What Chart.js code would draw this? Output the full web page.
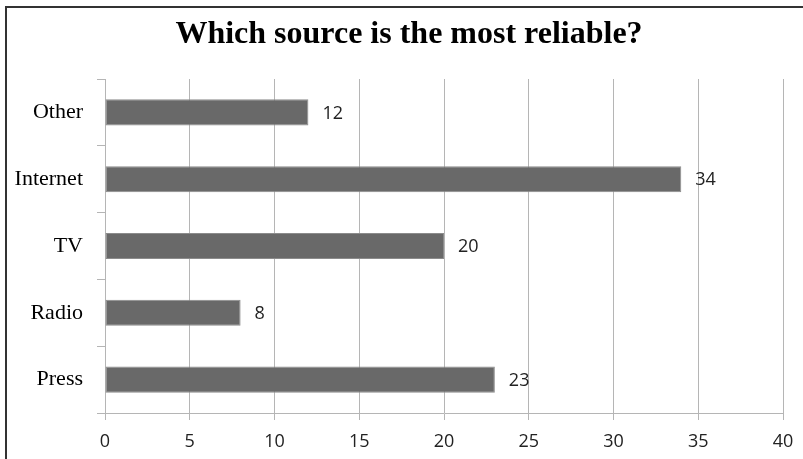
<!DOCTYPE html>
<html>
<head>
<meta charset="utf-8">
<script src="https://cdn.jsdelivr.net/npm/chart.js@4"></script>
<style>
  html, body { margin: 0; padding: 0; background: #fff; overflow: hidden; }
  #wrap { position: relative; width: 803px; height: 459px; }
  #frame {
    position: absolute; left: 5px; top: 6px; width: 900px; height: 600px;
    border-left: 2px solid #333; border-top: 2px solid #333;
  }
  canvas { position: absolute; left: 0; top: 0; }
</style>
</head>
<body>
<div id="wrap">
  <div id="frame"></div>
  <canvas id="chart" width="803" height="459"></canvas>
</div>
<script>
const titleText = 'Which source is the most reliable?';
const sources = ['Other', 'Internet', 'TV', 'Radio', 'Press'];
const votes = [12, 34, 20, 8, 23];
const axisMax = 40;
const axisStep = 5;

const gridGray = '#b5b5b5';

// title drawn by hand so it can sit off-centre like the original layout
const titlePlugin = {
  id: 'titleText',
  afterDraw(chart) {
    const ctx = chart.ctx;
    ctx.save();
    ctx.font = 'bold 32px "Liberation Serif", "Times New Roman", serif';
    ctx.fillStyle = '#000';
    ctx.textAlign = 'center';
    ctx.textBaseline = 'alphabetic';
    ctx.fillText(titleText, 409, 43);
    ctx.restore();
  }
};

// value written just past the end of each bar
const valueLabels = {
  id: 'valueLabels',
  afterDatasetsDraw(chart) {
    const ctx = chart.ctx;
    const meta = chart.getDatasetMeta(0);
    ctx.save();
    ctx.font = '18px "Open Sans", sans-serif';
    ctx.fillStyle = '#222';
    ctx.textAlign = 'left';
    ctx.textBaseline = 'middle';
    meta.data.forEach((bar, i) => {
      ctx.fillText(String(votes[i]), bar.x + 14, bar.y + 1);
    });
    ctx.restore();
  }
};

new Chart(document.getElementById('chart').getContext('2d'), {
  type: 'bar',
  data: {
    labels: sources,
    datasets: [{
      data: votes,
      backgroundColor: '#696969',
      borderColor: '#8c8c8c',
      borderWidth: 1,
      borderSkipped: false,
      categoryPercentage: 1,
      barPercentage: 0.39
    }]
  },
  options: {
    indexAxis: 'y',
    responsive: false,
    animation: false,
    layout: { padding: { top: 79, right: 0, left: 0, bottom: 0 } },
    plugins: {
      legend: { display: false },
      title: { display: false },
      tooltip: { enabled: false }
    },
    scales: {
      x: {
        min: 0,
        max: axisMax,
        grid: { color: gridGray, lineWidth: 1, tickLength: 7 },
        border: { color: gridGray },
        ticks: {
          stepSize: axisStep,
          padding: 11,
          color: '#222',
          font: { family: '"Open Sans", sans-serif', size: 18 }
        },
        afterFit(scale) {
          scale.height = 46;
          scale.paddingLeft = 0;
          scale.paddingRight = 20;
        }
      },
      y: {
        offset: true,
        grid: {
          offset: true,
          drawOnChartArea: false,
          color: gridGray,
          tickLength: 8
        },
        border: { color: gridGray },
        ticks: {
          padding: 14,
          color: '#000',
          font: { family: '"Liberation Serif", "Times New Roman", serif', size: 22 }
        },
        afterFit(scale) { scale.width = 105; }
      }
    }
  },
  plugins: [titlePlugin, valueLabels]
});
</script>
</body>
</html>
